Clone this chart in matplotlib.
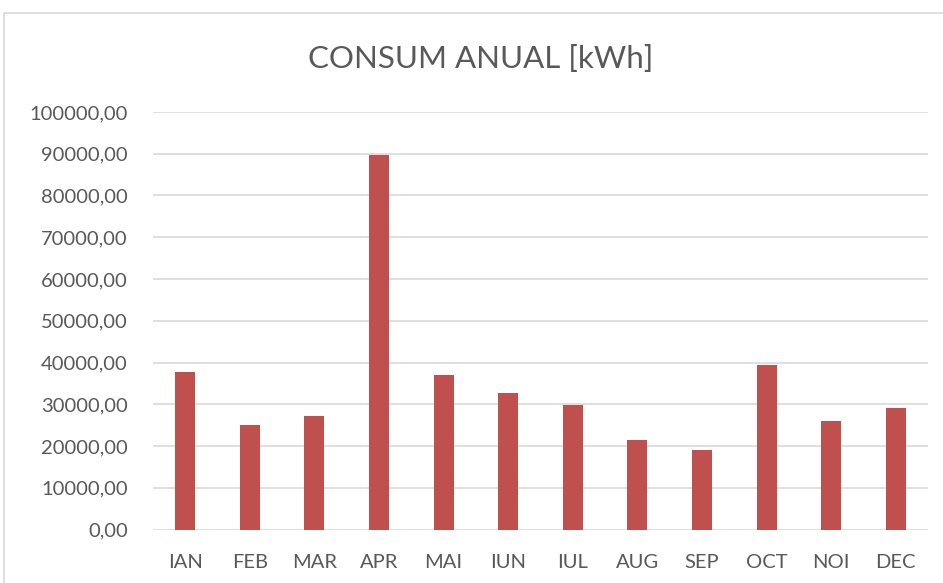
import matplotlib.pyplot as plt
from matplotlib.patches import Rectangle

months = ['IAN', 'FEB', 'MAR', 'APR', 'MAI', 'IUN', 'IUL', 'AUG', 'SEP', 'OCT', 'NOI', 'DEC']
consum = [37800, 25100, 27300, 89700, 36900, 32600, 29800, 21400, 19000, 39300, 26100, 29100]
yticks = list(range(0, 100001, 10000))

plt.rcParams['font.family'] = ['Lato', 'DejaVu Sans']
txt = '#595959'

fig = plt.figure(figsize=(9.43, 5.83), dpi=100)
fig.patches.append(Rectangle((4 / 943, -0.1), 1.2, 1 - 13 / 583 + 0.1, transform=fig.transFigure,
                             fill=False, edgecolor='#D9D9D9', linewidth=1.2))

ax = fig.add_axes([153 / 943, 1 - 529.5 / 583, 775 / 943, (529.5 - 112) / 583])
x = list(range(len(months)))
ax.bar(x, consum, width=0.31, color='#C0504D', zorder=3)
ax.set_xlim(-0.5, len(months) - 0.5)
ax.set_ylim(0, 100000)
ax.set_yticks(yticks)
ax.set_yticklabels([('%.2f' % v).replace('.', ',') for v in yticks])
ax.set_xticks(x)
ax.set_xticklabels(months)
ax.grid(axis='y', color='#D9D9D9', linewidth=1.2, zorder=0)
for s in ax.spines.values():
    s.set_visible(False)
ax.tick_params(length=0, labelsize=14.5, colors=txt)
ax.tick_params(axis='x', pad=18)
ax.tick_params(axis='y', pad=18)

fig.text(481 / 943, 1 - 59 / 583, 'CONSUM ANUAL [kWh]', ha='center', va='center', fontsize=22.5, color=txt)

fig.savefig('out.png', dpi=100)
